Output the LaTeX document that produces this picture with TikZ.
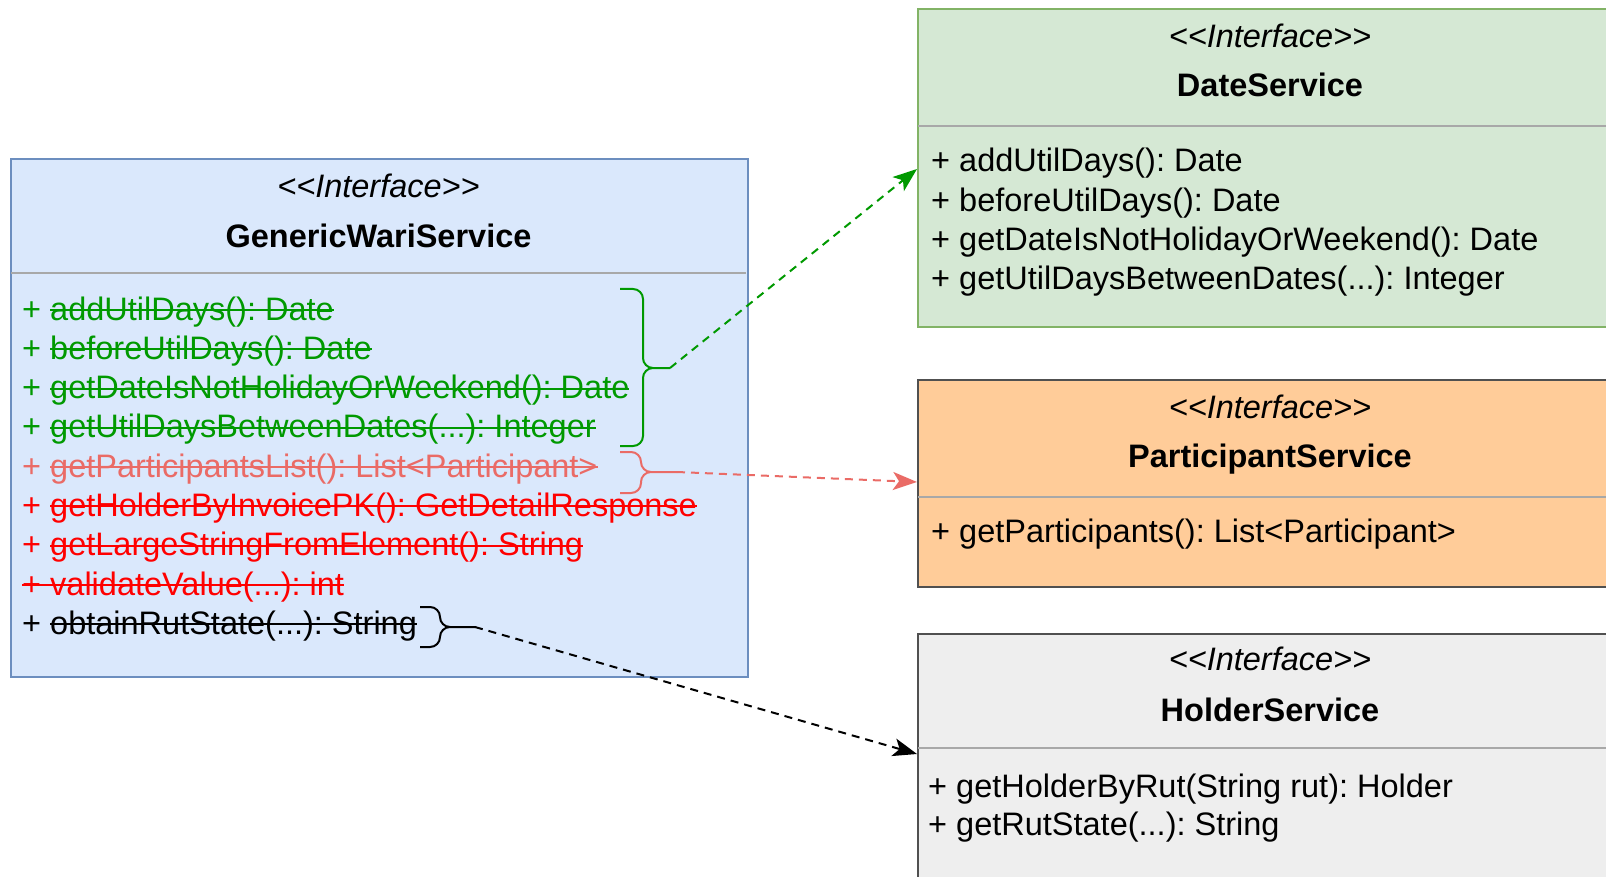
\documentclass[tikz,border=0pt]{standalone}
\usepackage{fontspec}
\setmainfont{Liberation Sans}
\usepackage{tikz}
\usetikzlibrary{arrows.meta, positioning, calc}

\definecolor{bluefill}{HTML}{DAE8FC}
\definecolor{bluedraw}{HTML}{6C8EBF}
\definecolor{greenfill}{HTML}{D5E8D4}
\definecolor{greendraw}{HTML}{82B366}
\definecolor{orangefill}{HTML}{FFCC99}
\definecolor{greyfill}{HTML}{EEEEEE}
\definecolor{darkdraw}{HTML}{505050}
\definecolor{sepgrey}{HTML}{A8A8A8}
\definecolor{okgreen}{HTML}{009900}
\definecolor{softred}{HTML}{EA6B66}
\definecolor{hardred}{HTML}{FF0000}

\newcommand{\umlfont}{\fontsize{32.5}{39}\selectfont}
\newcommand{\args}{(...)}
\newcommand{\stereotype}{<{}<Interface>{}>}
\newsavebox{\strikebox}
\newcommand{\umlstrike}[1]{\sbox{\strikebox}{#1}\rlap{\usebox{\strikebox}}\rule[0.28em]{\wd\strikebox}{2pt}}
\frenchspacing

\tikzset{
  classbox/.style={draw, line width=2pt, anchor=north west, inner sep=0pt},
  sepline/.style={draw=sepgrey, line width=2pt},
  stereo/.style={anchor=base, font=\umlfont\itshape},
  classname/.style={anchor=base, font=\umlfont\bfseries},
  method/.style={anchor=base west, inner sep=0pt, font=\umlfont},
  curly/.style={line width=2pt, rounded corners=10pt},
  depends/.style={line width=2pt, dash pattern=on 8pt off 6pt, -{Stealth[length=24pt, width=18pt, inset=6pt]}},
}

\begin{document}
\begin{tikzpicture}[x=1pt, y=-1pt]
  \useasboundingbox (0,0) rectangle (1606,877);
  \clip (0,0) rectangle (1606,877);

  % class boxes
  \node[classbox, fill=bluefill, draw=bluedraw, minimum width=737pt, minimum height=517.5pt] (gws) at (10,158.5) {};
  \node[classbox, fill=greenfill, draw=greendraw, minimum width=710pt, minimum height=318pt] (date) at (917,8) {};
  \node[classbox, fill=orangefill, draw=darkdraw, minimum width=710pt, minimum height=207pt] (part) at (917,379) {};
  \node[classbox, fill=greyfill, draw=darkdraw, minimum width=710pt, minimum height=290pt] (holder) at (917,633) {};

  \draw[sepline] (11,273.5) -- (746,273.5);
  \draw[sepline] (918,126) -- (1626,126);
  \draw[sepline] (918,497) -- (1626,497);
  \draw[sepline] (918,748) -- (1626,748);

  % headers
  \node[stereo] (gwsStereo) at (378.5,198) {\stereotype};
  \node[classname] (gwsName) at (378.5,247.5) {GenericWariService};
  \node[stereo] (dateStereo) at (1270,48) {\stereotype};
  \node[classname] (dateName) at (1270,97) {DateService};
  \node[stereo] (partStereo) at (1270,418) {\stereotype};
  \node[classname] (partName) at (1270,467) {ParticipantService};
  \node[stereo] (holderStereo) at (1270,670) {\stereotype};
  \node[classname] (holderName) at (1270,721) {HolderService};

  % methods of GenericWariService
  \foreach \i/\col/\txt in {0/okgreen/{+ \umlstrike{addUtilDays(): Date}},
                            1/okgreen/{+ \umlstrike{beforeUtilDays(): Date}},
                            2/okgreen/{+ \umlstrike{getDateIsNotHolidayOrWeekend(): Date}},
                            3/okgreen/{+ \umlstrike{getUtilDaysBetweenDates\args: Integer}},
                            4/softred/{+ \umlstrike{getParticipantsList(): List<Participant>}},
                            5/hardred/{+ \umlstrike{getHolderByInvoicePK(): GetDetailResponse}},
                            6/hardred/{+ \umlstrike{getLargeStringFromElement(): String}},
                            7/hardred/{\umlstrike{+ validateValue\args: int}},
                            8/black/{+ \umlstrike{obtainRutState\args: String}}} {
    \node[method, text=\col] (gm\i) at (22,320+39.3*\i) {\txt};
  }

  % methods of the services
  \foreach \i/\txt in {0/addUtilDays(): Date, 1/beforeUtilDays(): Date,
                       2/getDateIsNotHolidayOrWeekend(): Date, 3/getUtilDaysBetweenDates\args: Integer} {
    \node[method] (dm\i) at (931,172+39.3*\i) {+ \txt};
  }
  \node[method] (pm0) at (931,542) {+ getParticipants(): List<Participant>};
  \node[method] (hm0) at (928,797.5) {+ getHolderByRut(String rut): Holder};
  \node[method] (hm1) at (928,835.5) {+ getRutState\args: String};

  % braces and dependencies
  \coordinate (gtip) at (670,368);
  \coordinate (ptip) at (677,472);
  \coordinate (htip) at (475,627);
  \draw[curly, okgreen] (620,289) -| (643,368) -- (gtip) (620,446) -| (643,368) -- (gtip);
  \draw[curly, softred] (620,452) -| (641,472) -- (ptip) (620,493) -| (641,472) -- (ptip);
  \draw[curly, black] (420,607) -| (440,627) -- (htip) (420,647) -| (440,627) -- (htip);

  \draw[depends, okgreen] (gtip) -- ($(date.north west)+(0,161)$);
  \draw[depends, softred] (ptip) -- ($(part.north west)+(0,103)$);
  \draw[depends, black] (htip) -- ($(holder.north west)+(0,121)$);
\end{tikzpicture}
\end{document}
